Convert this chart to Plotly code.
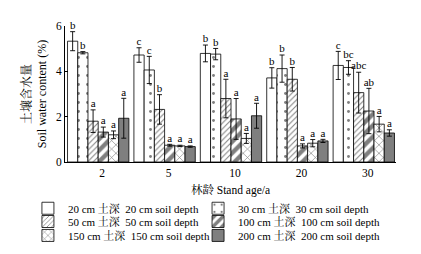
import plotly.graph_objects as go

ages = ["2", "5", "10", "20", "30"]
series_names = [
    "20 cm 土深  20 cm soil depth",
    "30 cm 土深  30 cm soil depth",
    "50 cm 土深  50 cm soil depth",
    "100 cm 土深  100 cm soil depth",
    "150 cm 土深  150 cm soil depth",
    "200 cm 土深  200 cm soil depth",
]
values = [
    [5.33, 4.72, 4.79, 3.71, 4.26],
    [4.82, 4.06, 4.76, 4.12, 4.17],
    [1.80, 2.32, 2.80, 3.65, 3.06],
    [1.32, 0.74, 1.90, 0.71, 2.25],
    [1.20, 0.71, 1.04, 0.83, 1.67],
    [1.93, 0.68, 2.04, 0.93, 1.28],
]
errors = [
    [0.42, 0.32, 0.37, 0.45, 0.62],
    [0.05, 0.60, 0.25, 0.60, 0.30],
    [0.50, 0.65, 0.85, 0.52, 0.90],
    [0.22, 0.04, 0.90, 0.09, 1.00],
    [0.17, 0.03, 0.22, 0.16, 0.34],
    [0.88, 0.03, 0.55, 0.07, 0.14],
]
letters = [
    ["b", "c", "b", "b", "c"],
    ["b", "c", "b", "b", "bc"],
    ["a", "b", "a", "b", "abc"],
    ["a", "a", "a", "a", "ab"],
    ["a", "a", "a", "a", "a"],
    ["a", "a", "a", "a", "a"],
]

patterns = [
    dict(shape="", fgcolor="black", bgcolor="white"),
    dict(shape=".", fgcolor="black", bgcolor="white", size=9, solidity=0.08),
    dict(shape="/", fgcolor="black", bgcolor="white", size=4, solidity=0.25),
    dict(shape="/", fgcolor="black", bgcolor="white", size=8, solidity=0.55),
    dict(shape="x", fgcolor="black", bgcolor="white", size=6, solidity=0.2),
    dict(shape="", fgcolor="black", bgcolor="#7f7f7f"),
]
colors = ["white", "white", "white", "white", "white", "#7f7f7f"]

FONT = "Liberation Serif, Times New Roman, Noto Serif CJK SC, Noto Sans CJK SC, serif"
w = 0.154
n = len(series_names)
xs = list(range(len(ages)))
legend_ids = ["legend", "legend2", "legend3", "legend4", "legend5", "legend6"]
# legend grid: (column x, row y) in paper coordinates
legend_cols = [-0.112, 0.402]
legend_rows = [-0.34, -0.4375, -0.54]

fig = go.Figure()
for i in range(n):
    off = -n * w / 2 + i * w
    fig.add_trace(go.Bar(
        x=xs, y=values[i], width=w, offset=off, name=series_names[i],
        marker=dict(color=colors[i], pattern=patterns[i],
                    line=dict(color="black", width=0.8)),
        error_y=dict(type="data", array=errors[i], color="black",
                     thickness=0.9, width=2.5),
        legend=legend_ids[i],
    ))
for i in range(n):
    off = -n * w / 2 + i * w
    fig.add_trace(go.Scatter(
        x=[x + off + w / 2 for x in xs],
        y=[v + e for v, e in zip(values[i], errors[i])],
        mode="text", text=letters[i], textposition="top center",
        textfont=dict(family=FONT, size=11, color="black"),
        showlegend=False, hoverinfo="skip", cliponaxis=False,
    ))

leg_common = dict(orientation="v", xanchor="left", yanchor="middle",
                  font=dict(family=FONT, size=11, color="black"),
                  bgcolor="rgba(0,0,0,0)", borderwidth=0,
                  itemclick=False, itemdoubleclick=False)
legends = {}
for i, lid in enumerate(legend_ids):
    legends[lid] = dict(x=legend_cols[i % 2], y=legend_rows[i // 2], **leg_common)

fig.update_layout(
    width=421, height=254,
    margin=dict(l=57, r=33, t=14, b=96),
    paper_bgcolor="white", plot_bgcolor="white",
    barmode="overlay",
    font=dict(family=FONT, size=11.5, color="black"),
    showlegend=True,
    xaxis=dict(range=[-0.5, 4.485], tickvals=xs, ticktext=ages,
               ticklabelshift=4,
               showline=True, linecolor="black", linewidth=1,
               ticks="", showgrid=False, zeroline=False,
               title=dict(text="林龄 Stand age/a", standoff=8,
                          font=dict(family=FONT, size=11.5))),
    yaxis=dict(range=[0, 6], tickvals=[0, 2, 4, 6],
               showline=True, linecolor="black", linewidth=1,
               ticks="inside", ticklen=3, tickcolor="black",
               showgrid=False, zeroline=False,
               title=dict(text="土壤含水量<br>Soil water content (%)",
                          standoff=6, font=dict(family=FONT, size=12))),
    **legends,
)
fig.write_html("out.html")
